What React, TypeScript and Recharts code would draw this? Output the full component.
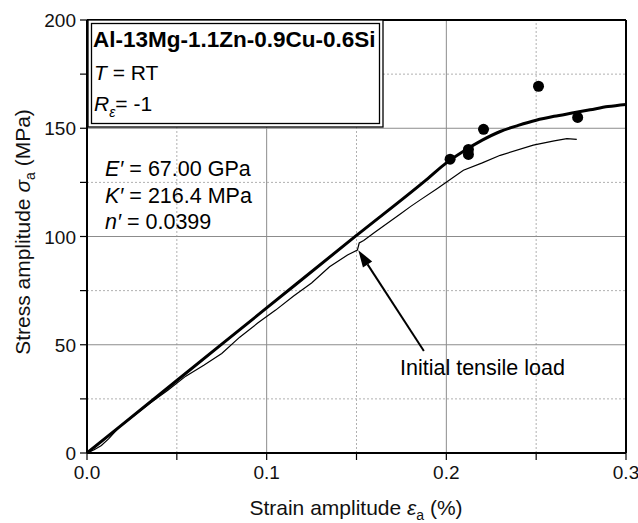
import React from 'react';
import { ComposedChart, Line, Scatter, XAxis, YAxis, ReferenceLine } from 'recharts';

const xTicks = [0, 0.05, 0.1, 0.15, 0.2, 0.25, 0.3];
const xMajor = [0, 0.1, 0.2, 0.3];
const yTicks = [0, 25, 50, 75, 100, 125, 150, 175, 200];
const yMajor = [0, 50, 100, 150, 200];

// cyclic stress-strain curve (thick line)
const cyclicStrain = [0, 0.05, 0.1, 0.15, 0.19, 0.2, 0.21, 0.22, 0.23, 0.24, 0.25, 0.26, 0.27, 0.28, 0.29, 0.3];
const cyclicStress = [0, 33.5, 67, 100.5, 127, 134, 139.6, 144.5, 148.5, 151.3, 153.7, 155.5, 157, 158.5, 160, 161];

// initial tensile load curve (thin line)
const tensileStrain = [0, 0.004, 0.008, 0.012, 0.018, 0.025, 0.035, 0.045, 0.055, 0.065, 0.075, 0.085, 0.095, 0.105, 0.115, 0.125, 0.135, 0.145, 0.1505, 0.1515, 0.154, 0.16, 0.167, 0.174, 0.18, 0.1853, 0.195, 0.2095, 0.22, 0.23, 0.2484, 0.26, 0.2671, 0.2726];
const tensileStress = [0, 1.5, 3.5, 6.5, 12, 16.5, 23, 29, 35.5, 40.5, 46, 53.5, 60, 66, 72.5, 78.5, 86, 91.5, 93.7, 97, 98.2, 101.8, 106, 110.2, 113.8, 116.8, 122.2, 130.6, 134, 137.5, 142.2, 144.2, 145.2, 144.9];

// test data points
const pointStrain = [0.2021, 0.2123, 0.2123, 0.2207, 0.2513, 0.2731];
const pointStress = [135.7, 140.2, 137.9, 149.5, 169.4, 155];

// arrow annotation (data coords): tail -> head
const arrowFrom = { x: 0.1875, y: 47.1 };
const arrowTo = { x: 0.151, y: 93.7 };

const cyclicData = cyclicStrain.map((x, i) => ({ x, y: cyclicStress[i] }));
const tensileData = tensileStrain.map((x, i) => ({ x, y: tensileStress[i] }));
const pointData = pointStrain.map((x, i) => ({ x, y: pointStress[i] }));

const FONT = '"Liberation Sans", Arial, sans-serif';

const XTick = (props: any) => {
  const { x, y, payload } = props;
  const v = payload.value;
  if (!xMajor.some((m) => Math.abs(m - v) < 1e-9)) return <g />;
  return (
    <text x={x} y={y} dy={17} textAnchor="middle" fontFamily={FONT} fontSize={19} fill="#111">
      {v.toFixed(1)}
    </text>
  );
};

const YTick = (props: any) => {
  const { x, y, payload } = props;
  const v = payload.value;
  if (!yMajor.includes(v)) return <g />;
  return (
    <text x={x - 2} y={y} dy={7} textAnchor="end" fontFamily={FONT} fontSize={19} fill="#111">
      {v}
    </text>
  );
};

const ArrowShape = (props: any) => {
  const { x1, y1, x2, y2 } = props;
  if (x1 == null) return <g />;
  const dx = x2 - x1;
  const dy = y2 - y1;
  const len = Math.sqrt(dx * dx + dy * dy);
  const ux = dx / len;
  const uy = dy / len;
  const hl = 17;
  const hw = 5.5;
  const bx = x2 - ux * hl;
  const by = y2 - uy * hl;
  const px = -uy;
  const py = ux;
  return (
    <g>
      <line x1={x1} y1={y1} x2={bx} y2={by} stroke="#000" strokeWidth={2} />
      <polygon
        points={`${x2},${y2} ${bx + px * hw},${by + py * hw} ${bx - px * hw},${by - py * hw}`}
        fill="#000"
      />
    </g>
  );
};

const majorGrid = { stroke: '#8c8c8c', strokeWidth: 1 };
const minorGrid = { stroke: '#b0b0b0', strokeWidth: 1, strokeDasharray: '2 2' };

export default function App() {
  return (
    <div style={{ position: 'absolute', left: 0, top: 0, width: 638, height: 523, background: '#fff' }}>
      <ComposedChart
        width={638}
        height={523}
        margin={{ top: 20, right: 12, left: 0, bottom: 0 }}
      >
        <XAxis
          type="number"
          dataKey="x"
          domain={[0, 0.3]}
          ticks={xTicks}
          allowDataOverflow
          height={70}
          tick={<XTick />}
          tickSize={7}
          axisLine={{ stroke: '#000', strokeWidth: 2 }}
          tickLine={{ stroke: '#000', strokeWidth: 1.2 }}
        />
        <YAxis
          type="number"
          dataKey="y"
          domain={[0, 200]}
          ticks={yTicks}
          allowDataOverflow
          width={87}
          tick={<YTick />}
          tickSize={7}
          axisLine={{ stroke: '#000', strokeWidth: 2 }}
          tickLine={{ stroke: '#000', strokeWidth: 1.2 }}
        />
        {[0.05, 0.15, 0.25].map((v) => (
          <ReferenceLine key={'xm' + v} x={v} {...minorGrid} />
        ))}
        {[0.1, 0.2].map((v) => (
          <ReferenceLine key={'xM' + v} x={v} {...majorGrid} />
        ))}
        {[25, 75, 125, 175].map((v) => (
          <ReferenceLine key={'ym' + v} y={v} {...minorGrid} />
        ))}
        {[50, 100, 150].map((v) => (
          <ReferenceLine key={'yM' + v} y={v} {...majorGrid} />
        ))}
        <ReferenceLine y={200} stroke="#000" strokeWidth={2} />
        <ReferenceLine x={0.3} stroke="#000" strokeWidth={2} />
        <Line
          data={tensileData}
          dataKey="y"
          type="linear"
          stroke="#000"
          strokeWidth={1.2}
          dot={false}
          isAnimationActive={false}
        />
        <Line
          data={cyclicData}
          dataKey="y"
          type="monotone"
          stroke="#000"
          strokeWidth={3}
          dot={false}
          isAnimationActive={false}
        />
        <Scatter
          data={pointData}
          dataKey="y"
          fill="#000"
          isAnimationActive={false}
          shape={(p: any) => <circle cx={p.cx} cy={p.cy} r={5.5} fill="#000" />}
        />
        <ReferenceLine
          segment={[arrowFrom, arrowTo]}
          stroke="#000"
          shape={<ArrowShape />}
        />
      </ComposedChart>
      <svg
        width={638}
        height={523}
        style={{ position: 'absolute', left: 0, top: 0, pointerEvents: 'none' }}
        fontFamily={FONT}
      >
        <rect x={88} y={20} width={295} height={107} fill="#fff" stroke="#000" strokeWidth={1.3} />
        <rect x={91.5} y={23.5} width={288} height={100} fill="none" stroke="#000" strokeWidth={1.3} />
        <text x={93} y={47} fontSize={22.5} fontWeight="bold" fill="#000">
          Al-13Mg-1.1Zn-0.9Cu-0.6Si
        </text>
        <text x={94} y={80} fontSize={21} fill="#000">
          <tspan fontStyle="italic">T</tspan> = RT
        </text>
        <text x={94} y={111} fontSize={21} fill="#000">
          <tspan fontStyle="italic">R</tspan>
          <tspan fontStyle="italic" fontSize={14} dy={6}>ε</tspan>
          <tspan dy={-6}>= -1</tspan>
        </text>
        <text x={105} y={176} fontSize={21.5} fill="#000">
          <tspan fontStyle="italic">E′</tspan>  = 67.00 GPa
        </text>
        <text x={105} y={203} fontSize={21.5} fill="#000">
          <tspan fontStyle="italic">K′</tspan> = 216.4 MPa
        </text>
        <text x={105} y={229} fontSize={21.5} fill="#000">
          <tspan fontStyle="italic">n′</tspan> = 0.0399
        </text>
        <text x={400} y={375} fontSize={21.5} fill="#000">
          Initial tensile load
        </text>
        <text x={356} y={515} fontSize={21} textAnchor="middle" fill="#111">
          Strain amplitude <tspan fontStyle="italic">ε</tspan>
          <tspan fontSize={14} dy={5}>a</tspan>
          <tspan dy={-5}> (%)</tspan>
        </text>
        <text
          x={0}
          y={0}
          fontSize={21}
          textAnchor="middle"
          fill="#111"
          transform="translate(30,232) rotate(-90)"
        >
          Stress amplitude <tspan fontStyle="italic">σ</tspan>
          <tspan fontSize={14} dy={5}>a</tspan>
          <tspan dy={-5}> (MPa)</tspan>
        </text>
      </svg>
    </div>
  );
}
